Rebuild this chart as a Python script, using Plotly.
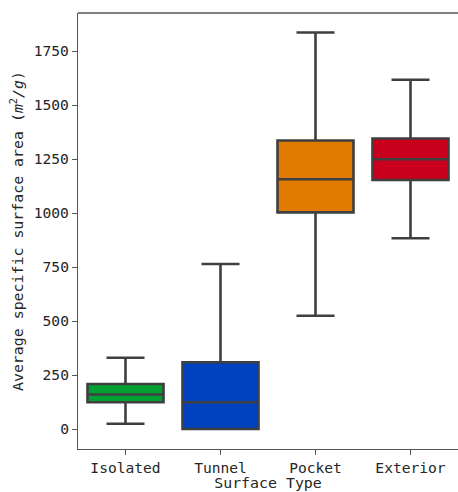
import plotly.graph_objects as go

categories = ["Isolated", "Tunnel", "Pocket", "Exterior"]
lower_whisker = [24, 0, 524, 883]
q1_vals = [124, 0, 1003, 1153]
median_vals = [160, 124, 1156, 1249]
q3_vals = [208, 309, 1336, 1345]
upper_whisker = [330, 764, 1836, 1617]
colors = ["#00a032", "#0041be", "#e07a00", "#c8001e"]
y_ticks = [0, 250, 500, 750, 1000, 1250, 1500, 1750]

FONT = "DejaVu Sans Mono"
fig = go.Figure()
for i, cat in enumerate(categories):
    fig.add_trace(go.Box(
        x=[cat], q1=[q1_vals[i]], median=[median_vals[i]], q3=[q3_vals[i]],
        lowerfence=[lower_whisker[i]], upperfence=[upper_whisker[i]],
        fillcolor=colors[i], line=dict(color="#3f3f3f", width=2.6),
        width=0.8, whiskerwidth=0.5, boxpoints=False, showlegend=False,
        hoverinfo="skip",
    ))

fig.update_layout(
    width=458, height=492,
    margin=dict(l=78, r=0, t=13, b=43),
    plot_bgcolor="white", paper_bgcolor="white",
    font=dict(family=FONT, size=14.6, color="#262626"),
    showlegend=False,
)
fig.update_xaxes(
    categoryorder="array", categoryarray=categories,
    range=[-0.5, 3.5], showgrid=False, zeroline=False,
    showline=True, linecolor="#555555", linewidth=1.3, mirror=False,
    ticks="outside", ticklen=5, tickcolor="#555555", tickwidth=1.2,
    title=dict(text="Surface Type", standoff=9, font=dict(family=FONT, size=14.9)),
    automargin=False,
)
fig.update_yaxes(
    range=[-92.6, 1926], tickvals=y_ticks, ticktext=[str(v) for v in y_ticks],
    showgrid=False, zeroline=False,
    showline=True, linecolor="#555555", linewidth=1.3,
    ticks="outside", ticklen=5, tickcolor="#555555", tickwidth=1.2,
    title=dict(text="Average specific surface area (<i>m</i><sup>2</sup><i>/g</i>)", standoff=6,
               font=dict(family=FONT, size=14.9)),
    automargin=False,
)
# top spine
fig.add_shape(type="line", xref="paper", yref="paper", x0=0, x1=1, y0=1, y1=1,
              line=dict(color="#555555", width=1.3))
fig.write_html("out.html")
